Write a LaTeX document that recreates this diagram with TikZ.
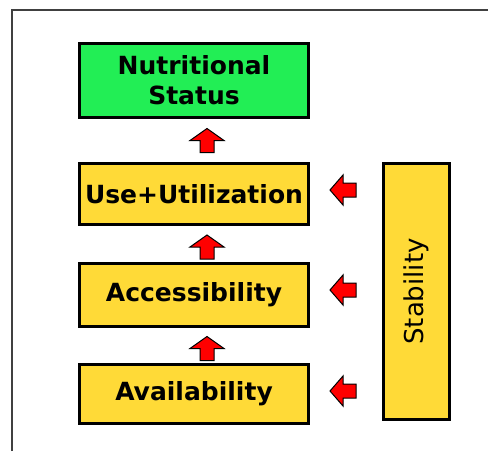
\documentclass[tikz,border=0pt]{standalone}
\usepackage{fontspec}
\setmainfont{DejaVu Sans}
\usetikzlibrary{calc}
\definecolor{boxyellow}{RGB}{255,218,55}
\definecolor{boxgreen}{RGB}{34,238,85}
\definecolor{arrred}{RGB}{255,0,0}
\tikzset{
  box/.style={draw=black, line width=3pt, fill=boxyellow, minimum width=229pt, inner sep=0pt, align=center, font=\fontsize{25}{30}\selectfont\bfseries},
  goalbox/.style={box, fill=boxgreen},
  arrowfill/.style={fill=arrred, draw=black, line width=1pt, line join=miter},
  pics/uparrow/.style={code={
    \path[arrowfill] (-7,-12) -- (-7,0) -- (-17,0) -- (0,12) -- (17,0) -- (7,0) -- (7,-12) -- cycle;
  }},
  pics/leftarrow/.style={code={
    \path[arrowfill] (13,-7) -- (0,-7) -- (0,-15) -- (-13,0) -- (0,15) -- (0,7) -- (13,7) -- cycle;
  }},
}
\begin{document}
\begin{tikzpicture}[x=1pt,y=1pt]
\useasboundingbox (0,0) rectangle (488,-451);
\draw[line width=1.5pt, black!75] (12,-451) -- (12,-10) -- (488,-10);
\node[goalbox, minimum height=74pt] (nut) at (194,-80.5) {Nutritional\\Status};
\node[box, minimum height=61pt] (use) at (194,-194) {Use+Utilization};
\node[box, minimum height=63pt] (acc) at (194,-295) {Accessibility};
\node[box, minimum height=59pt] (ava) at (194,-394) {Availability};
\node[box, minimum width=66pt, minimum height=256pt] (stab) at (416.5,-291.5) {};
\node[rotate=90, font=\fontsize{26}{30}\selectfont] (stabtext) at (stab.center) {Stability};
\path ($(use.north)!0.5!(nut.south)+(13,0)$) pic {uparrow};
\path ($(acc.north)!0.5!(use.south)+(13,-3)$) pic {uparrow};
\path ($(ava.north)!0.5!(acc.south)+(13,-3)$) pic {uparrow};
\path (343,0 |- use.east) ++(0,4) pic {leftarrow};
\path (343,0 |- acc.east) ++(0,5) pic {leftarrow};
\path (343,0 |- ava.east) ++(0,3) pic {leftarrow};
\end{tikzpicture}
\end{document}
